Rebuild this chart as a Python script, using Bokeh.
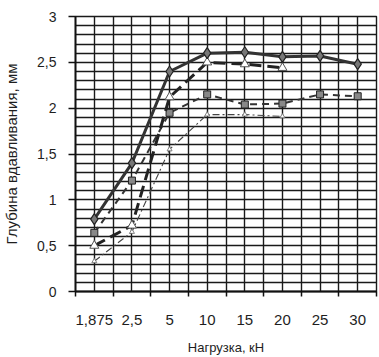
from bokeh.plotting import figure
from bokeh.models import FixedTicker, Grid
from bokeh.embed import file_html
from bokeh.resources import INLINE

categories = ["1,875", "2,5", "5", "10", "15", "20", "25", "30"]
series_a = [0.79, 1.40, 2.40, 2.60, 2.61, 2.56, 2.57, 2.48]
series_b = [0.50, 0.72, 2.12, 2.50, 2.48, 2.44]
series_c = [0.64, 1.21, 1.95, 2.15, 2.04, 2.05, 2.15, 2.13]
series_d = [0.33, 0.65, 1.55, 1.93, 1.93, 1.91]
y_ticks = [0, 0.5, 1, 1.5, 2, 2.5, 3]
y_labels = ["0", "0,5", "1", "1,5", "2", "2,5", "3"]

n = len(categories)
xs = [i + 0.5 for i in range(n)]

p = figure(width=379, height=357, output_backend="svg", toolbar_location=None,
           x_range=(0, n), y_range=(0, 3),
           min_border_left=72, min_border_right=3, min_border_top=16, min_border_bottom=61)
p.outline_line_color = "#1a1a1a"
p.outline_line_width = 1.4
p.xgrid.visible = False
p.ygrid.visible = False

# dense grids (graph-paper look)
xgrid_ticks = [i * 0.5 for i in range(2 * n + 1)]
ygrid_ticks = [round(i * 0.1, 2) for i in range(31)]
gx = Grid(dimension=0, ticker=FixedTicker(ticks=xgrid_ticks),
          grid_line_color="#1a1a1a", grid_line_width=1.4, level="underlay")
gy = Grid(dimension=1, ticker=FixedTicker(ticks=ygrid_ticks),
          grid_line_color="#1a1a1a", grid_line_width=1.4, level="underlay")
p.add_layout(gx, "center")
p.add_layout(gy, "center")

# x axis
p.xaxis.ticker = FixedTicker(ticks=xs, minor_ticks=list(range(n + 1)))
p.xaxis.major_label_overrides = {x: c for x, c in zip(xs, categories)}
p.xaxis.major_tick_out = 0
p.xaxis.major_tick_in = 0
p.xaxis.minor_tick_out = 5
p.xaxis.minor_tick_in = 0
p.xaxis.minor_tick_line_color = "#111111"
p.xaxis.minor_tick_line_width = 1.5
p.xaxis.axis_label = "Нагрузка, кН"

# y axis
p.yaxis.ticker = FixedTicker(ticks=y_ticks, minor_ticks=[])
p.yaxis.major_label_overrides = {t: l for t, l in zip(y_ticks, y_labels)}
p.yaxis.major_tick_out = 7
p.yaxis.major_tick_in = 0
p.yaxis.major_tick_line_width = 1.5
p.yaxis.axis_label = "Глубина вдавливания, мм"

for ax in (p.xaxis[0], p.yaxis[0]):
    ax.axis_line_color = "#111111"
    ax.axis_line_width = 1.8
    ax.major_tick_line_color = "#111111"
    ax.major_label_text_font = "Liberation Sans"
    ax.major_label_text_color = "#1e1e1e"
    ax.axis_label_text_font = "Liberation Sans"
    ax.axis_label_text_font_style = "normal"
    ax.axis_label_text_color = "#1e1e1e"
p.xaxis.major_label_text_font_size = "15px"
p.yaxis.major_label_text_font_size = "14px"
p.xaxis.axis_label_text_font_size = "13px"
p.yaxis.axis_label_text_font_size = "15px"
p.xaxis.major_label_standoff = 18
p.xaxis.axis_label_standoff = 12
p.yaxis.major_label_standoff = 12
p.yaxis.axis_label_standoff = 14

# series
p.line(xs[:len(series_d)], series_d, line_color="#444444", line_width=1.1, line_dash="7 3 2 3")
p.scatter(xs[:len(series_d)], series_d, marker="triangle", size=5, fill_color="white", line_color="#666666", line_width=0.8)

p.line(xs, series_c, line_color="#333333", line_width=2, line_dash="7 5")
p.scatter(xs, series_c, marker="square", size=7, fill_color="#888888", line_color="#222222", line_width=1)

p.line(xs[:len(series_b)], series_b, line_color="#222222", line_width=3, line_dash="12 6")
p.scatter(xs[:len(series_b)], series_b, marker="triangle", size=9, fill_color="white", line_color="#555555", line_width=1)

p.line(xs, series_a, line_color="#333333", line_width=3)
p.scatter(xs, series_a, marker="diamond", size=11, fill_color="#777777", line_color="#222222", line_width=1.2)

open("out.html", "w").write(file_html(p, INLINE))
